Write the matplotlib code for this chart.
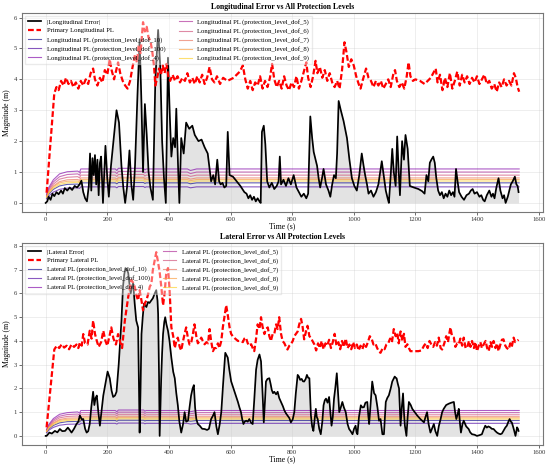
import numpy as np
import matplotlib
matplotlib.use("Agg")
import matplotlib.pyplot as plt

plt.rcParams['font.family'] = ['Liberation Serif', 'DejaVu Serif']

# ---- longitudinal |error|
lon_err_t = [0, 5, 10, 16, 22, 28, 35, 42, 50, 56, 62, 70, 78, 86, 94, 102, 110, 116, 122, 128,
             134, 140, 144, 148, 152, 156, 160, 164, 168, 172, 176, 180, 186, 194, 200, 205, 212, 220, 230, 238,
             246, 252, 258, 264, 272, 278, 284, 290, 298, 305, 311, 316, 322, 328, 334, 340, 348, 356, 365, 372,
             378, 384, 390, 397, 403, 408, 414, 420, 424, 430, 434, 440, 448, 456, 466, 476, 484, 496, 506, 516,
             526, 532, 537, 544, 550, 557, 563, 568, 574, 580, 586, 591, 597, 608, 620, 632, 645, 652, 658, 664,
             670, 676, 682, 688, 694, 698, 702, 708, 713, 719, 726, 734, 742, 750, 756, 760, 764, 772, 780, 788,
             796, 805, 814, 822, 830, 838, 846, 852, 859, 865, 870, 876, 881, 886, 891, 897, 902, 910, 918, 924,
             930, 936, 942, 946, 951, 958, 967, 978, 986, 994, 1002, 1010, 1018, 1026, 1032, 1037, 1043, 1048, 1056, 1064,
             1072, 1080, 1086, 1091, 1097, 1104, 1110, 1114, 1120, 1125, 1130, 1136, 1141, 1146, 1150, 1157, 1163, 1168, 1175, 1182,
             1195, 1210, 1222, 1230, 1236, 1242, 1247, 1252, 1258, 1263, 1268, 1274, 1280, 1286, 1292, 1298, 1304, 1310, 1316, 1322,
             1327, 1332, 1337, 1342, 1350, 1358, 1366, 1374, 1380, 1386, 1392, 1400, 1408, 1414, 1420, 1425, 1432, 1440, 1447, 1452,
             1457, 1463, 1470, 1476, 1483, 1488, 1493, 1500, 1505, 1510, 1516, 1523, 1528, 1532, 1535]
lon_err_v = [0.00, 0.05, 0.20, 0.10, 0.30, 0.22, 0.35, 0.28, 0.40, 0.30, 0.48, 0.40, 0.50, 0.42, 0.55, 0.50, 0.60, 0.72, 0.35, 0.15,
             0.05, 0.55, 1.60, 0.40, 1.45, 0.90, 1.55, 0.60, 1.40, 0.25, 1.30, 1.50, 0.00, 1.85, 0.80, 0.20, 1.20, 2.00, 3.00, 2.60,
             1.20, 0.50, 0.00, 0.50, 1.70, 0.60, 0.10, 1.20, 3.50, 5.30, 3.20, 1.00, 3.20, 2.20, 1.00, 0.50, 0.10, 4.00, 5.60, 4.40,
             2.00, 0.80, 0.00, 4.70, 2.80, 1.50, 2.10, 1.80, 3.05, 1.10, 0.00, 2.10, 1.60, 2.60, 2.40, 2.50, 2.20, 2.00, 2.05, 1.80,
             1.60, 1.10, 0.70, 0.90, 0.60, 1.40, 0.70, 0.60, 0.65, 0.50, 0.55, 2.30, 0.90, 0.85, 0.70, 0.55, 0.35, 0.30, 0.15, 0.25,
             0.10, 0.20, 0.05, 0.15, 0.05, 0.00, 2.30, 2.50, 1.90, 0.70, 0.50, 0.65, 0.45, 0.55, 0.70, 1.50, 0.60, 0.75, 0.55, 0.80,
             0.60, 0.90, 0.50, 0.35, 0.20, 0.30, 0.15, 0.30, 2.80, 2.10, 1.65, 1.40, 1.20, 0.80, 0.50, 0.80, 1.10, 0.60, 0.40, 0.20,
             0.60, 0.90, 0.80, 1.60, 3.30, 3.00, 2.65, 2.10, 1.40, 0.80, 0.55, 0.40, 0.90, 1.60, 1.20, 0.90, 0.60, 0.30, 0.40, 0.20,
             0.35, 0.60, 1.00, 1.35, 0.90, 0.40, 0.15, 0.00, 0.90, 1.75, 1.00, 0.55, 2.15, 1.00, 0.25, 2.00, 1.40, 2.20, 1.75, 0.55,
             0.50, 0.45, 0.38, 0.30, 0.90, 0.70, 1.30, 1.40, 1.50, 1.30, 0.80, 0.40, 0.25, 0.35, 0.15, 0.30, 0.20, 0.40, 0.25, 0.35,
             0.20, 1.10, 0.70, 0.35, 0.20, 0.10, 0.25, 0.30, 0.40, 0.45, 0.30, 0.35, 0.20, 0.25, 0.10, 0.05, 0.25, 0.40, 0.20, 0.30,
             0.15, 0.50, 0.80, 0.40, 0.15, 0.25, 0.00, 0.20, 0.40, 0.60, 0.70, 0.85, 0.60, 0.55, 0.35]

# ---- primary longitudinal PL
lon_pl_t = [3, 28, 35, 42, 50, 58, 66, 74, 82, 90, 98, 106, 114, 122, 130, 138, 146, 154, 160, 168,
            176, 184, 192, 200, 208, 214, 222, 228, 235, 242, 250, 258, 266, 274, 282, 290, 296, 302, 308, 316,
            322, 328, 334, 340, 346, 352, 356, 362, 368, 374, 380, 386, 392, 398, 404, 412, 420, 428, 436, 444,
            452, 460, 468, 476, 484, 492, 500, 508, 516, 524, 532, 540, 548, 556, 566, 576, 590, 610, 630, 640,
            648, 656, 664, 672, 680, 688, 696, 704, 712, 720, 728, 735, 742, 750, 758, 766, 774, 782, 790, 798,
            806, 814, 822, 830, 838, 846, 852, 860, 868, 876, 882, 890, 898, 906, 914, 922, 930, 938, 946, 954,
            962, 970, 976, 984, 992, 1000, 1008, 1016, 1022, 1030, 1040, 1048, 1056, 1064, 1072, 1080, 1088, 1096, 1104, 1112,
            1120, 1128, 1134, 1140, 1148, 1156, 1164, 1172, 1178, 1184, 1192, 1200, 1215, 1230, 1240, 1250, 1258, 1266, 1272, 1280,
            1288, 1296, 1304, 1312, 1320, 1328, 1336, 1344, 1352, 1360, 1368, 1376, 1384, 1392, 1400, 1408, 1416, 1424, 1432, 1440,
            1448, 1456, 1464, 1472, 1480, 1488, 1496, 1504, 1512, 1520, 1526, 1532, 1537]
lon_pl_v = [0.33, 3.55, 3.75, 3.65, 3.95, 3.80, 4.05, 3.85, 3.95, 3.75, 3.90, 3.70, 3.95, 3.80, 4.00, 3.85, 4.20, 4.35, 4.00, 3.80,
            4.05, 3.90, 4.30, 4.15, 4.65, 4.30, 4.00, 4.25, 4.55, 4.20, 3.95, 3.80, 3.70, 3.95, 4.40, 4.80, 4.55, 5.10, 4.85, 5.85,
            5.55, 5.70, 5.35, 5.25, 4.90, 4.40, 3.80, 4.05, 4.35, 4.15, 4.45, 4.20, 4.50, 4.10, 3.95, 4.15, 3.95, 4.10, 3.90, 4.05,
            3.95, 4.20, 3.90, 4.05, 3.85, 4.10, 3.90, 4.15, 3.85, 4.05, 4.40, 4.00, 3.90, 4.10, 3.85, 4.05, 3.95, 4.05, 4.25, 4.45,
            4.00, 3.70, 3.95, 3.65, 3.90, 3.80, 4.10, 3.70, 3.95, 3.75, 4.05, 4.50, 4.00, 3.75, 3.95, 3.70, 4.10, 3.80, 3.65, 3.90,
            3.75, 4.10, 3.70, 3.95, 4.25, 4.55, 4.05, 3.75, 4.10, 4.60, 4.20, 4.40, 4.05, 4.30, 3.95, 4.20, 3.90, 3.75, 3.95, 3.70,
            4.30, 5.20, 4.90, 4.40, 4.65, 4.45, 4.10, 3.85, 3.70, 4.00, 4.35, 4.05, 3.95, 3.75, 3.95, 3.80, 3.95, 3.70, 3.85, 4.00,
            3.75, 4.15, 4.30, 3.95, 3.75, 3.90, 3.70, 4.10, 4.55, 4.10, 3.95, 4.00, 3.95, 3.85, 3.95, 4.05, 4.20, 4.35, 3.90, 4.15,
            3.65, 4.05, 3.75, 4.20, 3.70, 3.95, 4.25, 3.80, 4.15, 3.90, 4.10, 3.85, 4.05, 3.90, 4.10, 3.85, 4.00, 4.15, 3.85, 3.95,
            3.70, 3.85, 3.60, 3.90, 3.75, 4.00, 3.80, 3.95, 3.80, 4.20, 4.05, 3.75, 3.60]

# ---- lateral |error|
lat_err_t = [0, 3, 12, 20, 30, 38, 46, 54, 63, 72, 78, 84, 92, 100, 106, 111, 117, 122, 128, 133,
             138, 143, 148, 154, 158, 162, 166, 171, 176, 181, 187, 194, 201, 208, 214, 219, 225, 230, 237, 242,
             246, 251, 255, 259, 264, 268, 272, 276, 280, 284, 289, 294, 300, 303, 305, 308, 311, 315, 319, 323,
             327, 332, 337, 343, 348, 354, 359, 363, 365, 368, 370, 373, 375, 378, 381, 385, 388, 392, 397, 402,
             408, 414, 419, 424, 429, 434, 440, 446, 451, 456, 462, 467, 472, 477, 481, 485, 489, 494, 500, 508,
             516, 524, 530, 537, 543, 548, 554, 559, 565, 570, 576, 583, 587, 591, 596, 602, 607, 613, 618, 624,
             629, 634, 638, 642, 646, 651, 656, 661, 667, 672, 677, 683, 688, 694, 699, 704, 708, 712, 715, 720,
             726, 730, 734, 738, 742, 748, 753, 758, 764, 770, 775, 780, 785, 791, 796, 802, 807, 812, 818, 822,
             826, 831, 835, 839, 844, 848, 852, 856, 861, 865, 869, 873, 877, 880, 883, 888, 893, 898, 902, 906,
             910, 915, 920, 924, 928, 932, 936, 940, 945, 949, 953, 958, 963, 968, 974, 980, 985, 990, 996, 1001,
             1006, 1009, 1012, 1017, 1023, 1028, 1033, 1038, 1044, 1047, 1050, 1055, 1060, 1066, 1071, 1077, 1082, 1087, 1093, 1098,
             1104, 1109, 1114, 1120, 1125, 1129, 1133, 1136, 1139, 1143, 1147, 1152, 1156, 1160, 1163, 1166, 1171, 1175, 1179, 1185,
             1190, 1198, 1206, 1217, 1228, 1233, 1238, 1243, 1249, 1254, 1260, 1265, 1271, 1276, 1282, 1287, 1292, 1300, 1309, 1317,
             1325, 1329, 1333, 1337, 1341, 1345, 1348, 1353, 1357, 1365, 1373, 1378, 1384, 1392, 1400, 1408, 1416, 1421, 1427, 1432,
             1437, 1443, 1448, 1454, 1460, 1465, 1470, 1476, 1481, 1486, 1492, 1497, 1502, 1506, 1510, 1513, 1517, 1521, 1525, 1528,
             1530, 1533, 1535]
lat_err_v = [0.00, 0.00, 0.14, 0.10, 0.21, 0.15, 0.29, 0.20, 0.21, 0.35, 0.25, 0.14, 0.30, 0.50, 0.60, 0.86, 0.70, 0.71, 0.30, 0.14,
             0.20, 0.50, 1.20, 1.86, 1.30, 1.60, 1.70, 1.00, 0.43, 1.00, 1.70, 2.20, 2.71, 2.43, 1.90, 1.64, 1.70, 1.86, 3.00, 4.00,
             4.86, 6.29, 6.80, 7.07, 7.00, 6.86, 6.40, 6.00, 6.30, 6.43, 5.57, 4.86, 4.57, 2.00, 0.14, 2.00, 4.29, 5.00, 5.57, 5.50,
             5.43, 5.64, 5.60, 5.71, 5.80, 6.00, 6.14, 5.70, 5.14, 2.50, 0.00, 1.50, 2.43, 3.50, 4.29, 4.80, 5.00, 4.70, 4.43, 4.00,
             3.29, 2.70, 2.43, 1.80, 1.29, 0.60, 0.14, 0.50, 1.00, 0.60, 0.64, 1.20, 1.70, 2.00, 2.14, 1.20, 0.71, 0.50, 0.43, 0.30,
             0.29, 0.25, 0.30, 0.71, 0.85, 1.00, 0.40, 0.07, 0.50, 1.00, 2.20, 3.50, 3.40, 3.30, 2.80, 2.30, 2.10, 1.86, 1.65, 1.43,
             1.20, 1.00, 0.70, 0.50, 0.60, 0.64, 0.60, 0.71, 0.55, 0.50, 1.50, 2.79, 3.20, 3.43, 3.14, 1.80, 0.57, 1.50, 2.29, 2.40,
             2.43, 2.20, 1.93, 1.80, 1.86, 1.75, 1.86, 1.60, 1.43, 1.25, 1.07, 0.95, 0.86, 0.75, 0.57, 0.70, 1.00, 1.80, 2.57, 2.50,
             2.36, 2.40, 2.30, 2.29, 2.40, 2.57, 2.45, 2.43, 0.86, 0.40, 0.21, 0.70, 1.14, 0.80, 0.71, 0.30, 0.07, 0.60, 1.29, 1.50,
             1.57, 1.40, 1.64, 1.00, 0.43, 0.80, 1.57, 2.00, 2.64, 1.80, 1.00, 1.20, 1.43, 1.20, 1.00, 0.50, 0.29, 0.20, 0.07, 0.30,
             0.43, 0.15, 0.07, 0.80, 1.29, 1.20, 1.21, 1.40, 1.43, 0.90, 0.50, 1.40, 2.29, 1.80, 1.71, 1.20, 0.64, 0.71, 0.07, 0.07,
             1.43, 1.60, 1.71, 2.00, 2.29, 2.40, 2.50, 2.45, 2.43, 2.20, 2.00, 0.43, 1.20, 1.79, 1.00, 0.43, 0.00, 0.80, 1.43, 1.30,
             1.14, 1.00, 0.86, 0.70, 0.57, 0.80, 1.00, 0.50, 0.14, 0.30, 0.50, 0.20, 0.00, 0.40, 0.71, 1.00, 1.14, 1.30, 1.36, 1.40,
             1.43, 1.00, 0.71, 0.90, 1.14, 0.50, 0.14, 0.50, 0.64, 0.40, 0.29, 0.15, 0.07, 0.05, 0.00, 0.03, 0.07, 0.25, 0.43, 0.35,
             0.40, 0.36, 0.30, 0.29, 0.20, 0.14, 0.10, 0.07, 0.10, 0.21, 0.35, 0.43, 0.60, 0.71, 0.60, 0.57, 0.40, 0.21, 0.00, 0.20,
             0.36, 0.30, 0.21]

# ---- primary lateral PL
lat_pl_t = [3, 28, 36, 44, 52, 60, 68, 76, 84, 92, 100, 106, 111, 117, 122, 128, 136, 143, 149, 154,
            160, 166, 172, 180, 187, 194, 200, 207, 213, 220, 228, 235, 242, 248, 257, 263, 268, 273, 278, 284,
            289, 295, 300, 305, 311, 316, 322, 327, 333, 338, 343, 348, 354, 359, 365, 370, 376, 381, 386, 391,
            397, 402, 408, 414, 419, 424, 429, 435, 440, 446, 451, 456, 462, 467, 472, 478, 483, 489, 494, 500,
            505, 510, 516, 522, 527, 532, 537, 543, 548, 553, 559, 564, 570, 575, 580, 586, 591, 597, 602, 607,
            615, 624, 632, 640, 645, 650, 656, 661, 667, 672, 677, 683, 688, 694, 699, 704, 710, 715, 721, 726,
            731, 737, 742, 748, 753, 758, 764, 769, 775, 780, 785, 791, 796, 802, 807, 812, 818, 823, 829, 834,
            839, 845, 850, 856, 861, 866, 872, 878, 884, 890, 896, 902, 908, 914, 920, 926, 932, 938, 944, 950,
            956, 962, 968, 974, 980, 986, 992, 998, 1004, 1010, 1016, 1022, 1028, 1034, 1040, 1046, 1052, 1058, 1064, 1070,
            1076, 1082, 1087, 1094, 1100, 1106, 1112, 1118, 1124, 1130, 1136, 1141, 1146, 1152, 1158, 1163, 1168, 1174, 1179, 1184,
            1195, 1210, 1220, 1228, 1234, 1240, 1246, 1252, 1258, 1264, 1270, 1276, 1282, 1287, 1294, 1300, 1306, 1310, 1314, 1319,
            1325, 1330, 1336, 1341, 1346, 1352, 1357, 1363, 1368, 1374, 1379, 1384, 1390, 1395, 1400, 1406, 1411, 1416, 1422, 1428,
            1433, 1438, 1444, 1449, 1454, 1460, 1465, 1470, 1476, 1481, 1486, 1492, 1497, 1503, 1508, 1513, 1519, 1524, 1530, 1535]
lat_pl_v = [0.36, 3.64, 3.80, 3.70, 3.86, 3.72, 3.80, 3.65, 3.86, 3.75, 3.85, 3.70, 3.93, 3.80, 4.29, 3.90, 3.85, 4.43, 4.10, 4.86,
            4.30, 4.00, 3.75, 3.95, 4.43, 4.00, 3.80, 4.20, 4.57, 4.10, 3.85, 4.29, 3.95, 3.70, 4.86, 5.40, 5.86, 6.20, 6.57, 6.45,
            6.29, 5.90, 5.71, 6.14, 5.70, 5.29, 5.60, 5.70, 6.00, 6.29, 6.40, 7.00, 7.40, 7.74, 7.30, 6.90, 6.20, 5.50, 6.00, 6.80,
            7.07, 6.20, 4.57, 4.20, 3.70, 4.00, 4.14, 3.75, 3.60, 4.00, 4.30, 4.57, 4.10, 3.85, 3.90, 4.30, 4.70, 4.20, 3.90, 4.00,
            4.14, 4.00, 3.86, 3.95, 3.90, 4.50, 4.00, 3.57, 3.70, 3.70, 3.90, 3.70, 4.00, 4.57, 5.00, 5.50, 5.10, 4.57, 4.30, 4.20,
            4.10, 4.00, 4.00, 3.95, 4.10, 4.14, 3.90, 3.80, 3.86, 3.70, 3.57, 4.10, 4.70, 4.50, 5.00, 4.60, 4.29, 4.50, 4.57, 4.20,
            4.00, 4.30, 4.29, 4.70, 4.50, 5.00, 4.30, 4.00, 3.90, 3.75, 3.64, 3.80, 3.86, 4.00, 4.20, 4.29, 4.40, 4.70, 4.93, 4.60,
            4.07, 4.40, 4.64, 4.20, 4.14, 4.00, 3.86, 3.60, 3.90, 3.70, 4.00, 3.65, 3.90, 3.80, 4.05, 3.70, 3.95, 4.30, 3.80, 3.95,
            3.65, 4.00, 3.75, 4.10, 3.70, 3.85, 3.65, 3.95, 3.70, 3.85, 3.60, 3.80, 3.65, 3.90, 3.75, 3.95, 4.20, 4.10, 3.85, 3.90,
            3.70, 3.55, 3.50, 3.70, 3.65, 3.85, 3.90, 4.10, 3.95, 4.50, 4.20, 4.35, 3.90, 4.40, 4.00, 4.30, 3.75, 3.86, 3.70, 3.57,
            3.57, 3.57, 3.60, 3.80, 3.90, 3.70, 4.00, 3.85, 3.75, 3.95, 3.80, 4.14, 3.70, 3.64, 3.90, 4.20, 3.95, 4.30, 4.57, 4.20,
            4.14, 3.75, 3.90, 3.86, 4.10, 3.80, 4.14, 3.70, 3.71, 4.00, 3.75, 4.00, 3.70, 3.95, 3.57, 3.80, 3.95, 3.70, 3.86, 4.00,
            3.70, 3.57, 3.95, 3.75, 4.00, 3.70, 3.90, 3.57, 3.85, 4.05, 4.07, 3.80, 3.70, 3.64, 3.90, 3.75, 4.14, 3.95, 4.00, 4.05]

# ---- protection levels per dof (shared time grid)
pl_t = [3, 10, 25, 45, 70, 104, 110, 114, 226, 231, 236, 318, 322, 326, 460, 470, 490, 1537]
dof_names = ['10', '100', '4', '5', '6', '7', '8', '9']

lon_dof10 = [0.16, 0.29, 0.44, 0.55, 0.60, 0.61, 0.59, 0.65, 0.65, 0.62, 0.66, 0.66, 0.63, 0.65, 0.65, 0.62, 0.65, 0.65]
lon_dof100 = [0.13, 0.23, 0.35, 0.44, 0.48, 0.49, 0.47, 0.52, 0.52, 0.49, 0.53, 0.53, 0.50, 0.52, 0.52, 0.49, 0.52, 0.52]
lon_dof4 = [0.28, 0.50, 0.75, 0.94, 1.01, 1.03, 0.99, 1.10, 1.10, 1.05, 1.12, 1.12, 1.07, 1.10, 1.10, 1.05, 1.10, 1.10]
lon_dof5 = [0.25, 0.45, 0.68, 0.85, 0.92, 0.94, 0.90, 1.00, 1.00, 0.95, 1.02, 1.02, 0.97, 1.00, 1.00, 0.95, 1.00, 1.00]
lon_dof6 = [0.23, 0.41, 0.61, 0.77, 0.83, 0.85, 0.81, 0.90, 0.90, 0.86, 0.92, 0.92, 0.87, 0.90, 0.90, 0.86, 0.90, 0.90]
lon_dof7 = [0.20, 0.36, 0.55, 0.69, 0.75, 0.76, 0.73, 0.81, 0.81, 0.77, 0.83, 0.83, 0.79, 0.81, 0.81, 0.77, 0.81, 0.81]
lon_dof8 = [0.19, 0.34, 0.52, 0.65, 0.70, 0.71, 0.68, 0.76, 0.76, 0.72, 0.78, 0.78, 0.74, 0.76, 0.76, 0.72, 0.76, 0.76]
lon_dof9 = [0.18, 0.32, 0.48, 0.60, 0.65, 0.67, 0.64, 0.71, 0.71, 0.67, 0.72, 0.72, 0.69, 0.71, 0.71, 0.67, 0.71, 0.71]

lat_dof10 = [0.16, 0.29, 0.44, 0.55, 0.60, 0.61, 0.59, 0.65, 0.65, 0.62, 0.66, 0.66, 0.63, 0.65, 0.65, 0.62, 0.65, 0.65]
lat_dof100 = [0.13, 0.24, 0.36, 0.45, 0.49, 0.50, 0.48, 0.53, 0.53, 0.50, 0.54, 0.54, 0.51, 0.53, 0.53, 0.50, 0.53, 0.53]
lat_dof4 = [0.27, 0.48, 0.73, 0.91, 0.98, 1.01, 0.96, 1.07, 1.07, 1.02, 1.09, 1.09, 1.04, 1.07, 1.07, 1.02, 1.07, 1.07]
lat_dof5 = [0.25, 0.44, 0.67, 0.83, 0.90, 0.92, 0.88, 0.98, 0.98, 0.93, 1.00, 1.00, 0.95, 0.98, 0.98, 0.93, 0.98, 0.98]
lat_dof6 = [0.22, 0.40, 0.61, 0.76, 0.82, 0.84, 0.80, 0.89, 0.89, 0.85, 0.91, 0.91, 0.86, 0.89, 0.89, 0.85, 0.89, 0.89]
lat_dof7 = [0.20, 0.36, 0.55, 0.69, 0.75, 0.76, 0.73, 0.81, 0.81, 0.77, 0.83, 0.83, 0.79, 0.81, 0.81, 0.77, 0.81, 0.81]
lat_dof8 = [0.19, 0.34, 0.52, 0.65, 0.70, 0.71, 0.68, 0.76, 0.76, 0.72, 0.78, 0.78, 0.74, 0.76, 0.76, 0.72, 0.76, 0.76]
lat_dof9 = [0.18, 0.32, 0.48, 0.60, 0.65, 0.67, 0.64, 0.71, 0.71, 0.67, 0.72, 0.72, 0.69, 0.71, 0.71, 0.67, 0.71, 0.71]

lon_dofs = [lon_dof10, lon_dof100, lon_dof4, lon_dof5, lon_dof6, lon_dof7, lon_dof8, lon_dof9]
lat_dofs = [lat_dof10, lat_dof100, lat_dof4, lat_dof5, lat_dof6, lat_dof7, lat_dof8, lat_dof9]

colors = plt.cm.plasma(np.linspace(0, 0.9, len(dof_names)))

fig = plt.figure(figsize=(5.5, 4.7), dpi=100)
ax1 = fig.add_axes([0.040, 0.549, 0.947, 0.423])
ax2 = fig.add_axes([0.040, 0.053, 0.947, 0.430])


def draw(ax, err_t, err_v, pl_tt, pl_v, dofs, name, title):
    ax.fill_between(err_t, 0, err_v, color='gray', alpha=0.22, lw=0, zorder=1)
    ax.plot(err_t, err_v, color='black', lw=1.25, label='|%s Error|' % name, zorder=4)
    ax.plot(pl_tt, pl_v, color='red', ls='--', dashes=(2.6, 1.2), lw=1.6,
            label='Primary %s PL' % name, zorder=5)
    for vals, dof, c in zip(dofs, dof_names, colors):
        ax.plot(pl_t, vals, color=c, lw=0.8, alpha=0.65,
                label='%s PL (protection_level_dof_%s)' % (name, dof), zorder=3)
    ax.set_title(title, fontsize=5.6, fontweight='bold', pad=3)
    ax.set_xlabel('Time (s)', fontsize=5.6, labelpad=0.5)
    ax.set_ylabel('Magnitude (m)', fontsize=5.6, labelpad=2)
    ax.tick_params(labelsize=4.8, length=2, width=0.5, pad=1.5, colors='#333333')
    ax.grid(True, color='#cccccc', lw=0.4, alpha=0.6)
    for s in ax.spines.values():
        s.set_color('#777777')
        s.set_linewidth(0.8)
    ax.legend(loc='upper left', ncol=2, fontsize=4.8, framealpha=0.4,
              edgecolor='#cccccc', borderpad=0.4, labelspacing=0.45,
              handlelength=2.0, columnspacing=2.0, fancybox=False)


draw(ax1, lon_err_t, lon_err_v, lon_pl_t, lon_pl_v, lon_dofs, 'Longitudinal',
     'Longitudinal Error vs All Protection Levels')
draw(ax2, lat_err_t, lat_err_v, lat_pl_t, lat_pl_v, lat_dofs, 'Lateral',
     'Lateral Error vs All Protection Levels')

ax1.set_xticks([0, 200, 400, 600, 800, 1000, 1200, 1400, 1600])
ax2.set_xticks([0, 200, 400, 600, 800, 1000, 1200, 1400, 1600])

fig.savefig('out.png', dpi=100)
